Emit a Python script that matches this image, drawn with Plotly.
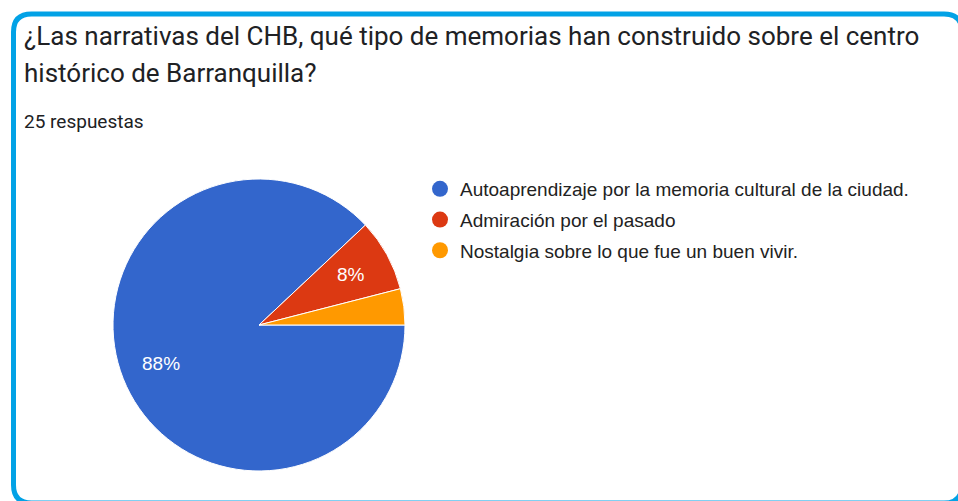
import math
import plotly.graph_objects as go

categories = [
    "Autoaprendizaje por la memoria cultural de la ciudad.",
    "Admiración por el pasado",
    "Nostalgia sobre lo que fue un buen vivir.",
]
values = [22, 2, 1]
show_label = [True, True, False]
colors = ["#3366cc", "#dc3912", "#ff9900"]
title_lines = [
    "¿Las narrativas del CHB, qué tipo de memorias han construido sobre el centro",
    "histórico de Barranquilla?",
]
subtitle = "25 respuestas"

# axes are set so data units equal screen pixels
W, H = 958, 501
cx, cy, r = 259, 325, 146

fig = go.Figure()
fig.add_trace(go.Pie(
    labels=categories, values=values, sort=False, direction="clockwise",
    rotation=90, marker=dict(colors=colors, line=dict(color="white", width=1)),
    textinfo="none", showlegend=False, hoverinfo="label+percent",
    domain=dict(x=[(cx - r) / W, (cx + r) / W],
                y=[1 - (cy + r) / H, 1 - (cy - r) / H]),
))
for i, (name, col) in enumerate(zip(categories, colors)):
    fig.add_trace(go.Scatter(
        x=[None], y=[None], mode="markers", name=name, legendgroup=f"g{i}",
        marker=dict(symbol="circle", size=16, color=col), showlegend=True,
    ))

# percentage labels placed along each slice's bisector (from the values)
total = sum(values)
start = 0.0
for v, show in zip(values, show_label):
    frac = v / total
    mid = (start + frac / 2) * 2 * math.pi  # clockwise from 3 o'clock
    start += frac
    if not show:
        continue
    lx = cx + 0.72 * r * math.cos(mid)
    ly = cy + 0.72 * r * math.sin(mid)
    fig.add_annotation(x=lx, y=ly, xref="x", yref="y", text=f"{round(frac * 100)}%",
                       showarrow=False, xanchor="center", yanchor="middle",
                       font=dict(family="Arial, Liberation Sans", size=19, color="white"))

# rounded frame (right and bottom edges run just past the window, as in the screenshot)
x0, x1, y0, y1, rr = 13.5, 962, 14, 503, 18
path = (f"M {x0+rr},{y0} L {x1-rr},{y0} Q {x1},{y0} {x1},{y0+rr} L {x1},{y1-rr} "
        f"Q {x1},{y1} {x1-rr},{y1} L {x0+rr},{y1} Q {x0},{y1} {x0},{y1-rr} "
        f"L {x0},{y0+rr} Q {x0},{y0} {x0+rr},{y0} Z")
fig.add_shape(type="path", path=path, xref="x", yref="y",
              line=dict(color="#02a2e6", width=5), fillcolor="rgba(0,0,0,0)")

title_font = dict(family="Roboto, Arial", size=26, color="#202124")
fig.add_annotation(x=22, y=36, xref="x", yref="y", text=title_lines[0], showarrow=False,
                   xanchor="left", yanchor="middle", font=title_font)
fig.add_annotation(x=22, y=73, xref="x", yref="y", text=title_lines[1], showarrow=False,
                   xanchor="left", yanchor="middle", font=title_font)
fig.add_annotation(x=22, y=121, xref="x", yref="y", text=subtitle, showarrow=False,
                   xanchor="left", yanchor="middle",
                   font=dict(family="Roboto, Arial", size=19, color="#202124"))

fig.update_layout(
    width=W, height=H, margin=dict(l=0, r=0, t=0, b=0),
    paper_bgcolor="white", plot_bgcolor="white",
    xaxis=dict(range=[0, W], visible=False, fixedrange=True),
    yaxis=dict(range=[H, 0], visible=False, fixedrange=True),
    legend=dict(x=420 / W, y=1 - 170 / H, xanchor="left", yanchor="top",
                font=dict(family="Arial, Liberation Sans", size=19, color="#222222"),
                tracegroupgap=3, bgcolor="rgba(0,0,0,0)"),
)
fig.write_html("out.html", config={"displayModeBar": False},
               post_script="document.body.style.margin='0';")
